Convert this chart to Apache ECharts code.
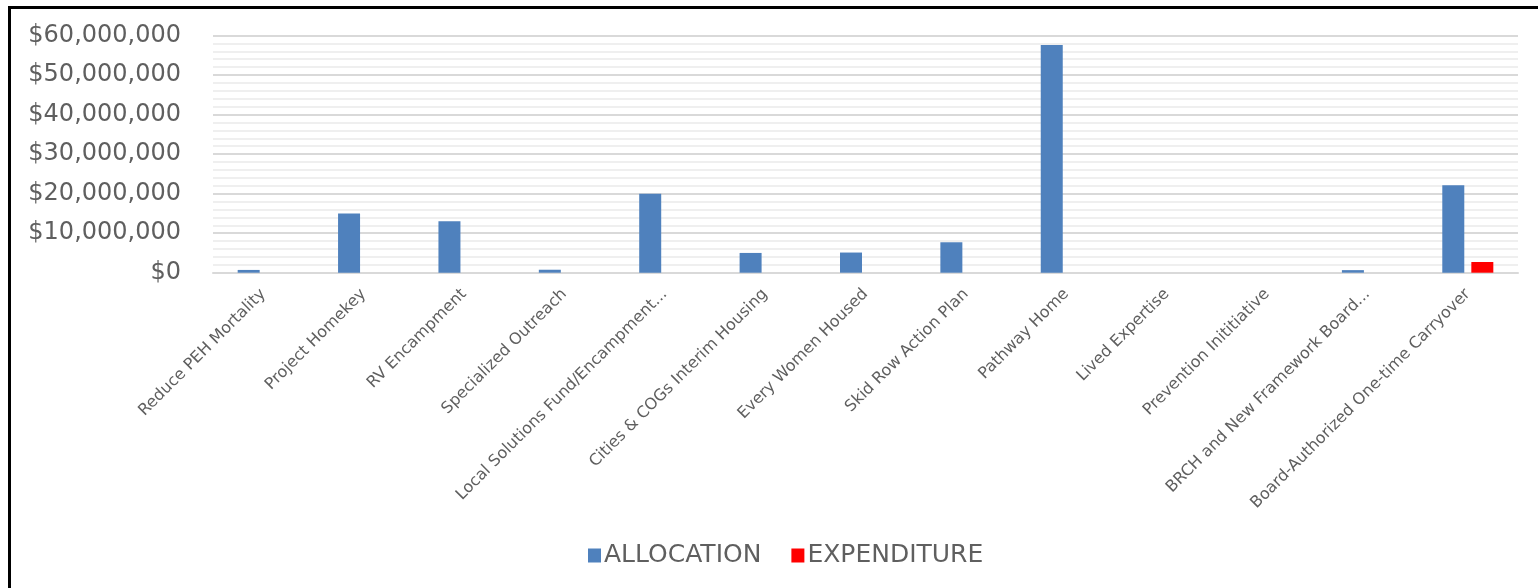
<!DOCTYPE html>
<html>
<head>
<meta charset="utf-8">
<title>Allocation and Expenditure</title>
<script src="https://cdn.jsdelivr.net/npm/echarts@6/dist/echarts.min.js"></script>
<style>
  html, body { margin: 0; padding: 0; background: #ffffff; }
  #chart { width: 1538px; height: 588px; }
</style>
</head>
<body>
<div id="chart"></div>
<script>
// Program names along the category axis
const categories = [
  'Reduce PEH Mortality',
  'Project Homekey',
  'RV Encampment',
  'Specialized Outreach',
  'Local Solutions Fund/Encampment...',
  'Cities & COGs Interim Housing',
  'Every Women Housed',
  'Skid Row Action Plan',
  'Pathway Home',
  'Lived Expertise',
  'Prevention Inititiative',
  'BRCH and New Framework Board...',
  'Board-Authorized One-time Carryover'
];

// Dollar amounts per program
const allocation = [
  700000, 15000000, 13000000, 750000, 20000000, 5000000, 5100000,
  7700000, 57600000, 0, 0, 650000, 22100000
];
const expenditure = [
  0, 0, 0, 0, 0, 0, 0, 0, 0, 0, 0, 0, 2700000
];

const seriesNames = ['ALLOCATION', 'EXPENDITURE'];

const FONT = '"DejaVu Sans", Verdana, sans-serif';
const TEXT = '#5f5f5f';

function money(v) {
  return '$' + Math.round(v).toString().replace(/\B(?=(\d{3})+(?!\d))/g, ',');
}

const chart = echarts.init(document.getElementById('chart'), null, { renderer: 'canvas' });

chart.setOption({
  animation: false,
  backgroundColor: '#ffffff',
  textStyle: { fontFamily: FONT },
  grid: { left: 213, right: 20, top: 35.5, bottom: 315.3, containLabel: false },
  legend: {
    data: seriesNames,
    top: 538,
    left: 583,
    itemWidth: 13,
    itemHeight: 14,
    itemGap: 30,
    icon: 'rect',
    textStyle: { fontFamily: FONT, fontSize: 25, color: TEXT, padding: [0, 0, 0, -2] }
  },
  xAxis: {
    type: 'category',
    data: categories,
    axisTick: { show: false },
    axisLine: { lineStyle: { color: '#d9d9d9', width: 2 } },
    axisLabel: {
      interval: 0,
      rotate: 45,
      margin: 19,
      fontFamily: FONT,
      fontSize: 16,
      color: TEXT
    }
  },
  yAxis: {
    type: 'value',
    min: 0,
    max: 60000000,
    interval: 10000000,
    axisLine: { show: false },
    axisTick: { show: false },
    axisLabel: {
      margin: 32,
      fontFamily: FONT,
      fontSize: 24,
      color: TEXT,
      formatter: money
    },
    splitLine: { lineStyle: { color: '#d9d9d9', width: 2 } },
    minorTick: { show: false, splitNumber: 5 },
    minorSplitLine: { show: true, lineStyle: { color: '#efefef', width: 2 } }
  },
  series: [
    {
      name: seriesNames[0],
      type: 'bar',
      data: allocation,
      barWidth: 22,
      barGap: '32%',
      itemStyle: { color: '#4f81bd' }
    },
    {
      name: seriesNames[1],
      type: 'bar',
      data: expenditure,
      barWidth: 22,
      itemStyle: { color: '#ff0000' }
    }
  ],
  graphic: [
    // frame lines along the top and left edges
    { type: 'rect', shape: { x: 8, y: 6, width: 1530, height: 3 }, style: { fill: '#000000' }, silent: true },
    { type: 'rect', shape: { x: 8, y: 6, width: 3, height: 582 }, style: { fill: '#000000' }, silent: true }
  ]
});
</script>
</body>
</html>
